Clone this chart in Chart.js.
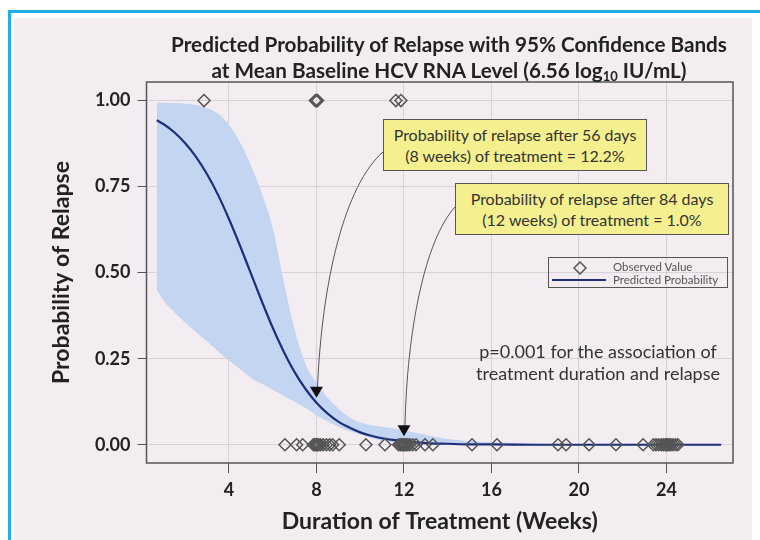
<!DOCTYPE html>
<html>
<head>
<meta charset="utf-8">
<script src="https://cdn.jsdelivr.net/npm/chart.js@4.4.1/dist/chart.umd.min.js"></script>
<style>
  body { margin: 0; background: #fff; font-family: Lato, "Open Sans", sans-serif; }
  #page { position: relative; width: 760px; height: 540px; overflow: hidden; }
  #frame { position: absolute; left: 8px; top: 10px; width: 750px; height: 530px;
           border-left: 3px solid #1cafe9; border-top: 3px solid #1cafe9; }
  #paper { position: absolute; left: 14px; top: 18px; width: 738px; height: 522px; background: #f3ecf1; }
  #wrap { position: absolute; left: 0; top: 0; width: 760px; height: 540px; }
  #title { position: absolute; left: 149px; top: 31px; width: 600px; text-align: center;
           font-weight: bold; font-size: 20.7px; line-height: 26px; color: #222; }
  #title sub { font-size: 13px; vertical-align: -3px; line-height: 0; }
  .note { position: absolute; background: #f4ef8f; border: 1px solid #555; color: #333;
          font-size: 16px; line-height: 21px; text-align: center; box-sizing: border-box; padding-top: 4px; }
  #pval { position: absolute; left: 448px; top: 340px; width: 300px; text-align: center;
          font-size: 18px; line-height: 22px; color: #333; }
  #legend { position: absolute; left: 548px; top: 257px; width: 180px; height: 31px;
            border: 1px solid #555; box-sizing: border-box; font-size: 11.5px; color: #555; }
  #legend span { position: absolute; left: 64px; line-height: 12px; white-space: nowrap; }
</style>
</head>
<body>
<div id="page">
  <div id="frame"></div>
  <div id="paper"></div>
  <div id="wrap"><canvas id="chart"></canvas></div>
  <div id="title">Predicted Probability of Relapse with 95% Confidence Bands<br>at Mean Baseline HCV RNA Level (6.56 log<sub>10</sub> IU/mL)</div>
  <div class="note" style="left:383px;top:119px;width:264px;height:52px;">Probability of relapse after 56 days<br>(8 weeks) of treatment = 12.2%</div>
  <div class="note" style="left:455px;top:183px;width:274px;height:52px;">Probability of relapse after 84 days<br>(12 weeks) of treatment = 1.0%</div>
  <div id="pval">p=0.001 for the association of<br>treatment duration and relapse</div>
  <div id="legend">
    <svg style="position:absolute;left:24px;top:3px" width="14" height="14"><polygon points="7,1 13,7 7,13 1,7" fill="none" stroke="#555" stroke-width="1.5"/></svg>
    <span style="top:3px">Observed Value</span>
    <div style="position:absolute;left:3px;top:21px;width:54px;height:2px;background:#1c2f78"></div>
    <span style="top:16px">Predicted Probability</span>
  </div>
</div>
<script>
// predicted probability curve (weeks, probability)
const curveWeeks = [0.7, 1, 1.5, 2, 2.5, 3, 3.5, 4, 4.5, 5, 5.5, 6, 6.5, 7, 7.5, 8, 8.5, 9, 9.5, 10, 10.5, 11, 11.5, 12, 13, 14, 15, 16, 18, 20, 22, 24, 26.5];
const curveProb  = [0.943, 0.932, 0.908, 0.876, 0.836, 0.786, 0.726, 0.656, 0.579, 0.498, 0.417, 0.340, 0.271, 0.211, 0.162, 0.122, 0.091, 0.067, 0.050, 0.036, 0.026, 0.019, 0.014, 0.010, 0.005, 0.003, 0.001, 0.001, 0, 0, 0, 0, 0];

// 95% confidence band
const bandWeeks = [0.7, 1, 1.5, 2, 2.5, 3, 3.5, 4, 4.5, 5, 5.5, 6, 6.5, 7, 7.5, 8, 8.5, 9, 9.5, 10, 11, 12, 13, 14, 15, 16, 18, 20, 22, 24, 26.5];
const bandUpper = [0.994, 0.994, 0.993, 0.991, 0.987, 0.978, 0.962, 0.930, 0.880, 0.812, 0.730, 0.630, 0.475, 0.335, 0.235, 0.180, 0.137, 0.105, 0.080, 0.065, 0.052, 0.042, 0.028, 0.017, 0.011, 0.007, 0.003, 0.001, 0, 0, 0];
const bandLower = [0.450, 0.420, 0.385, 0.355, 0.327, 0.300, 0.272, 0.245, 0.220, 0.195, 0.177, 0.160, 0.142, 0.125, 0.107, 0.086, 0.068, 0.052, 0.040, 0.030, 0.012, 0.005, 0.002, 0.001, 0, 0, 0, 0, 0, 0, 0];

// observed patients: treatment duration (weeks) of those who relapsed / did not
const relapseWeeks = [2.86, 7.95, 8.0, 8.05, 11.63, 11.86];
const noRelapseWeeks = [6.56, 7.09, 7.37, 7.86, 7.92, 7.98, 8.0, 8.04, 8.1, 8.18, 8.3, 8.45, 8.6, 8.74, 9.04,
  10.26, 11.13, 11.75, 11.83, 11.9, 11.96, 12.0, 12.04, 12.1, 12.18, 12.27, 12.4, 12.55, 12.96, 13.32,
  15.11, 16.25, 19.04, 19.41, 20.46, 21.69, 22.93, 23.4, 23.52, 23.64, 23.76, 23.86, 23.95, 24.0, 24.05,
  24.12, 24.2, 24.3, 24.42, 24.52];

const weekTicks = [4, 8, 12, 16, 20, 24];
const probTicks = [0, 0.25, 0.5, 0.75, 1];

// callouts: week and predicted probability the arrow points at
const callouts = [
  { week: 8, prob: 0.122, from: [383, 152], c1: [345, 185], c2: [322, 280] },
  { week: 12, prob: 0.010, from: [455, 207], c1: [425, 240], c2: [407, 330] }
];

const pts = (xs, ys) => xs.map((x, i) => ({ x, y: ys[i] }));
const observed = relapseWeeks.map(x => ({ x, y: 1 })).concat(noRelapseWeeks.map(x => ({ x, y: 0 })));

const frameAndArrows = {
  id: 'frameAndArrows',
  afterDraw(chart) {
    const { ctx, chartArea: a, scales: { x, y } } = chart;
    ctx.save();
    ctx.strokeStyle = '#555';
    ctx.lineWidth = 1.5;
    ctx.strokeRect(a.left, a.top, a.right - a.left, a.bottom - a.top);

    ctx.lineWidth = 1;
    ctx.strokeStyle = '#555';
    ctx.fillStyle = '#111';
    callouts.forEach(c => {
      const tx = x.getPixelForValue(c.week);
      const ty = y.getPixelForValue(c.prob) - 5;
      ctx.beginPath();
      ctx.moveTo(c.from[0], c.from[1]);
      ctx.bezierCurveTo(c.c1[0], c.c1[1], c.c2[0], c.c2[1], tx + 1, ty - 10);
      ctx.stroke();
      ctx.beginPath();
      ctx.moveTo(tx, ty);
      ctx.lineTo(tx - 6.5, ty - 11);
      ctx.lineTo(tx + 6.5, ty - 11);
      ctx.closePath();
      ctx.fill();
    });
    ctx.restore();
  }
};

const gridColor = 'rgba(160,145,155,0.3)';
const tickFont = { family: 'Lato', size: 18, weight: 'bold' };
const titleFont = { family: 'Lato', size: 23, weight: 'bold' };

new Chart(document.getElementById('chart'), {
  type: 'line',
  data: {
    datasets: [
      {
        label: 'Observed Value',
        type: 'scatter',
        data: observed,
        pointStyle: 'rectRot',
        pointRadius: 6,
        pointBorderWidth: 1.5,
        pointBorderColor: '#555',
        pointBackgroundColor: 'rgba(0,0,0,0)',
        showLine: false,
        order: 0
      },
      {
        label: 'Predicted Probability',
        data: pts(curveWeeks, curveProb),
        borderColor: '#1c2f78',
        borderWidth: 2.2,
        pointRadius: 0,
        cubicInterpolationMode: 'monotone',
        fill: false,
        order: 1
      },
      {
        label: 'Upper 95% CL',
        data: pts(bandWeeks, bandUpper),
        borderWidth: 0,
        borderColor: 'rgba(0,0,0,0)',
        backgroundColor: '#c3d5f0',
        pointRadius: 0,
        cubicInterpolationMode: 'monotone',
        fill: '+1',
        order: 2
      },
      {
        label: 'Lower 95% CL',
        data: pts(bandWeeks, bandLower),
        borderWidth: 0,
        borderColor: 'rgba(0,0,0,0)',
        pointRadius: 0,
        cubicInterpolationMode: 'monotone',
        fill: false,
        order: 3
      }
    ]
  },
  options: {
    responsive: true,
    maintainAspectRatio: false,
    animation: false,
    layout: { padding: { top: 82, right: 27, left: 0, bottom: 0 } },
    plugins: { legend: { display: false }, tooltip: { enabled: false } },
    scales: {
      x: {
        type: 'linear',
        min: 0.23,
        max: 27.04,
        afterFit: s => { s.height = 77; },
        afterBuildTicks: s => { s.ticks = weekTicks.map(v => ({ value: v })); },
        ticks: { font: tickFont, color: '#222', padding: 6 },
        grid: { color: gridColor, tickColor: '#555', tickLength: 10 },
        border: { display: false },
        title: { display: true, text: 'Duration of Treatment (Weeks)', font: titleFont, color: '#222', padding: { bottom: 4.2 } }
      },
      y: {
        min: -0.053,
        max: 1.054,
        afterFit: s => { s.width = 146.5; },
        afterBuildTicks: s => { s.ticks = probTicks.map(v => ({ value: v })); },
        ticks: { font: tickFont, color: '#222', padding: 7, callback: v => v.toFixed(2) },
        grid: { color: gridColor, tickColor: '#555', tickLength: 9 },
        border: { display: false },
        title: { display: true, text: 'Probability of Relapse', font: titleFont, color: '#222', padding: { top: 48.2 } }
      }
    }
  },
  plugins: [frameAndArrows]
});
</script>
</body>
</html>
